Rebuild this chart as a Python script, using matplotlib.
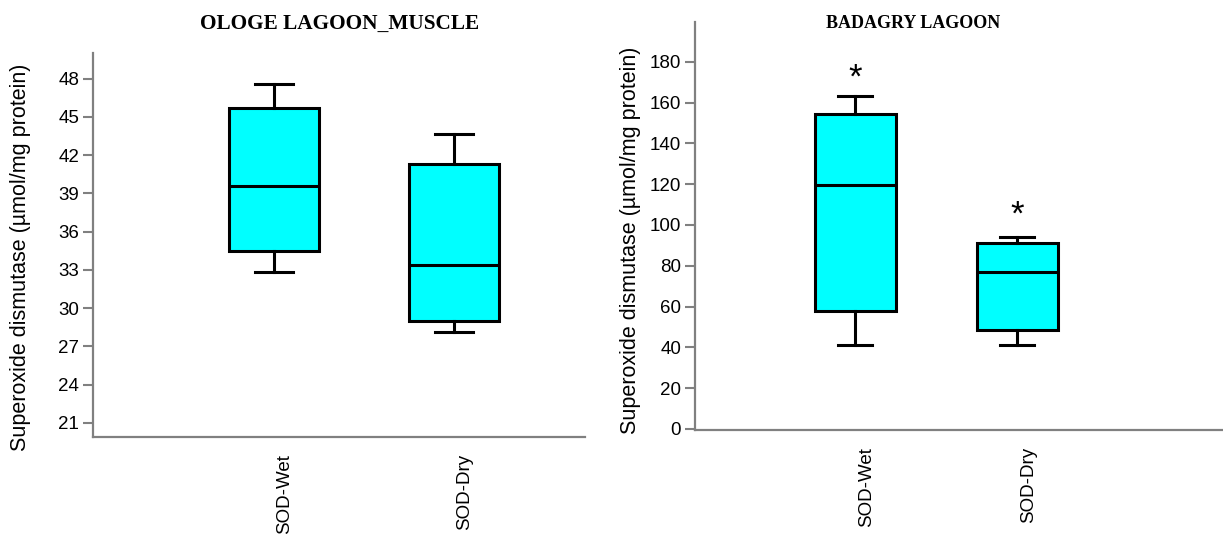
import matplotlib
matplotlib.use("Agg")
import matplotlib.pyplot as plt
import matplotlib.transforms as mtransforms

plt.rcParams['font.family'] = ['Liberation Sans', 'DejaVu Sans']

# box summaries: whislo, q1, median, q3, whishi
groups = ["SOD-Wet", "SOD-Dry"]

ologe_whislo = [32.85, 28.1]
ologe_q1 = [34.5, 29.0]
ologe_med = [39.55, 33.4]
ologe_q3 = [45.7, 41.3]
ologe_whishi = [47.55, 43.65]

badagry_whislo = [41, 41]
badagry_q1 = [58, 48.7]
badagry_med = [119.5, 77]
badagry_q3 = [154.5, 91]
badagry_whishi = [163, 94]
badagry_star = [172, 105]  # where the significance asterisks sit

ologe_ticks = [21, 24, 27, 30, 33, 36, 39, 42, 45, 48]
badagry_ticks = [0, 20, 40, 60, 80, 100, 120, 140, 160, 180]

ylab = "Superoxide dismutase (µmol/mg protein)"


def make_stats(lo, q1, med, q3, hi):
    stats = []
    for i in range(len(groups)):
        stats.append(dict(whislo=lo[i], q1=q1[i], med=med[i], q3=q3[i],
                          whishi=hi[i], fliers=[], label=groups[i]))
    return stats


def style_axes(ax, ticks, ylim, xlim):
    for side in ["top", "right"]:
        ax.spines[side].set_visible(False)
    for side in ["left", "bottom"]:
        ax.spines[side].set_color("#808080")
        ax.spines[side].set_linewidth(1.6)
    ax.set_ylim(*ylim)
    ax.set_xlim(*xlim)
    ax.set_yticks(ticks)
    ax.tick_params(axis="y", color="#808080", length=7, width=1.5,
                   labelsize=13.5, pad=3)
    ax.tick_params(axis="x", length=0, labelsize=13.5, pad=12)
    ax.set_xticks([1, 2])
    ax.set_xticklabels(groups, rotation=90, va="top", ha="center")
    # labels sit a little to the right of the box centres
    shift = mtransforms.ScaledTranslation(11 / 100, 0, ax.figure.dpi_scale_trans)
    for lab in ax.get_xticklabels():
        lab.set_transform(lab.get_transform() + shift)
    ax.set_ylabel(ylab, fontsize=15.5)


def draw_boxes(ax, stats):
    ax.bxp(stats, positions=[1, 2], widths=0.5, capwidths=0.21,
           patch_artist=True, showfliers=False,
           boxprops=dict(facecolor="#00FFFF", edgecolor="black", linewidth=2.2),
           medianprops=dict(color="black", linewidth=2.2),
           whiskerprops=dict(color="black", linewidth=2.2),
           capprops=dict(color="black", linewidth=2.2))


fig = plt.figure(figsize=(12.23, 5.34), dpi=100)

# OLOGE panel
ax1 = fig.add_axes([93 / 1223, (534 - 437) / 534, (585 - 93) / 1223, (437 - 53) / 534])
draw_boxes(ax1, make_stats(ologe_whislo, ologe_q1, ologe_med, ologe_q3, ologe_whishi))
style_axes(ax1, ologe_ticks, (19.9, 50.0), (-0.005, 2.73))
ax1.yaxis.set_label_coords(-0.126, 0.469)

# BADAGRY panel
ax2 = fig.add_axes([695 / 1223, (534 - 430) / 534, (1223 - 695) / 1223, (430 - 22) / 534])
draw_boxes(ax2, make_stats(badagry_whislo, badagry_q1, badagry_med, badagry_q3, badagry_whishi))
style_axes(ax2, badagry_ticks, (-0.5, 199.5), (0.01, 3.27))
ax2.yaxis.set_label_coords(-0.102, 0.466)
for i, y in enumerate(badagry_star):
    ax2.text(i + 1, y, "*", ha="center", va="center", fontsize=25)

fig.text(340 / 1223, 1 - 24 / 534, "OLOGE LAGOON_MUSCLE", ha="center", va="center",
         family="Liberation Serif", weight="bold", fontsize=15.3)
fig.text(913 / 1223, 1 - 24 / 534, "BADAGRY LAGOON", ha="center", va="center",
         family="Liberation Serif", weight="bold", fontsize=13)

fig.savefig("out.png", dpi=100)
